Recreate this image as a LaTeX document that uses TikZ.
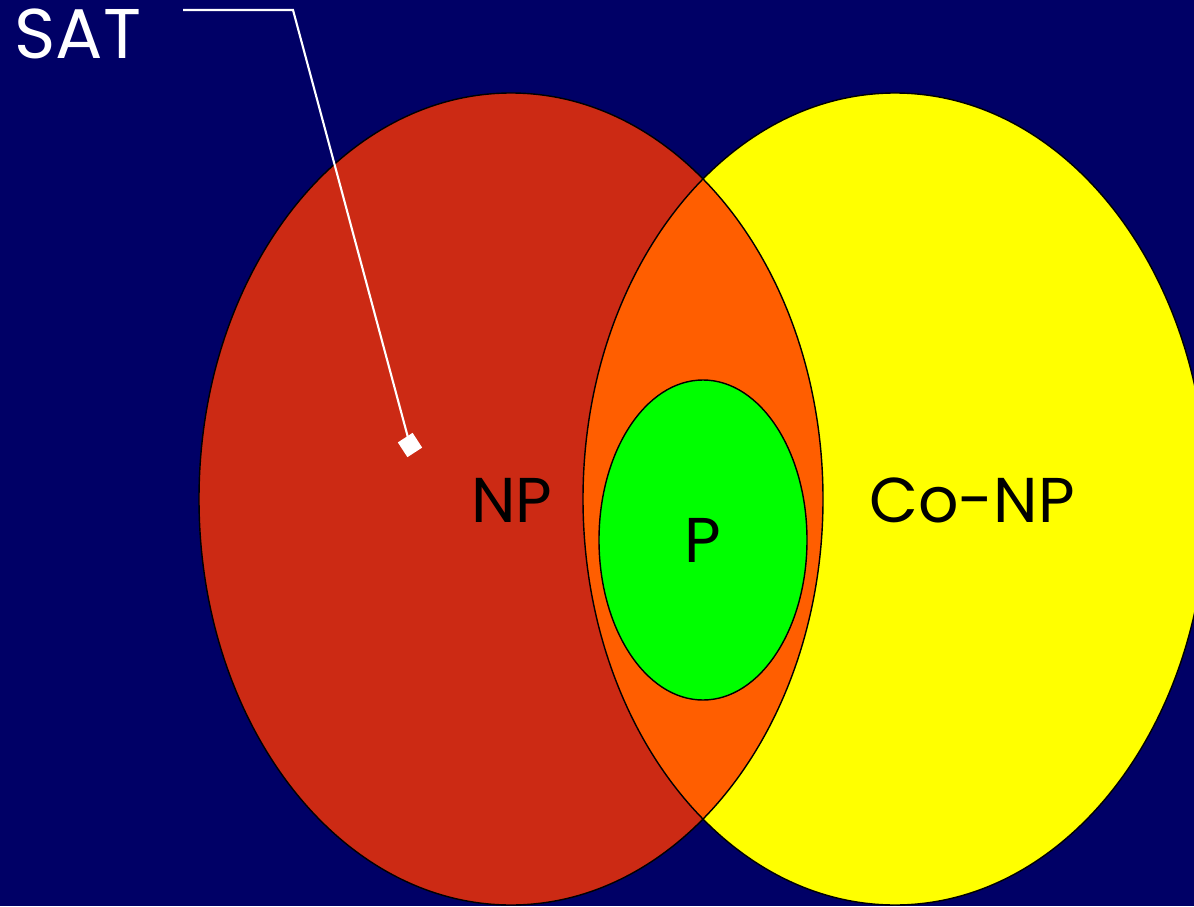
\documentclass[tikz,border=0pt]{standalone}
\usepackage{fontspec}
\setmainfont{Poppins}
\usepackage{tikz}
\usetikzlibrary{shapes.geometric}
\definecolor{navy}{HTML}{000066}
\definecolor{npred}{HTML}{CC2A14}
\definecolor{both}{HTML}{FF5E00}
\definecolor{conp}{HTML}{FFFF00}
\definecolor{pgreen}{HTML}{00FF00}

\tikzset{
  setline/.style={draw=black, line width=0.4pt},
  setlabel/.style={font=\fontsize{18}{22}\selectfont, text=black, inner sep=0pt},
  lead/.style={draw=white, line width=0.6pt},
}

\begin{document}
\begin{tikzpicture}[x=0.01cm, y=-0.01cm]
  % background
  \fill[navy] (0,0) rectangle (1194,906);
  \useasboundingbox (0,0) rectangle (1194,906);

  % the two classes and their overlap
  \fill[npred] (511,499) ellipse [x radius=312, y radius=406];
  \fill[conp] (895,499) ellipse [x radius=312, y radius=406];
  \begin{scope}
    \clip (511,499) ellipse [x radius=312, y radius=406];
    \fill[both] (895,499) ellipse [x radius=312, y radius=406];
  \end{scope}
  \draw[setline] (511,499) ellipse [x radius=312, y radius=406];
  \draw[setline] (895,499) ellipse [x radius=312, y radius=406];
  \draw[setline, fill=pgreen] (703,540) ellipse [x radius=104, y radius=160];

  \node[setlabel] (np) at (512,500) {NP};
  \node[setlabel] (pl) at (703,540) {P};
  \node[setlabel] (co) at (972,500) {Co-NP};

  % SAT pointer
  \node[setlabel, text=white, anchor=west, font=\fontsize{20}{24}\selectfont] (sat) at (14,34) {SAT};
  \coordinate (start) at (183,10);
  \coordinate (bend) at (293,10);
  \node[fill=white, minimum size=5pt, inner sep=0pt, rotate=33] (satpt) at (410,445) {};
  \draw[lead] (start) -- (bend) -- (satpt.center);
\end{tikzpicture}
\end{document}
